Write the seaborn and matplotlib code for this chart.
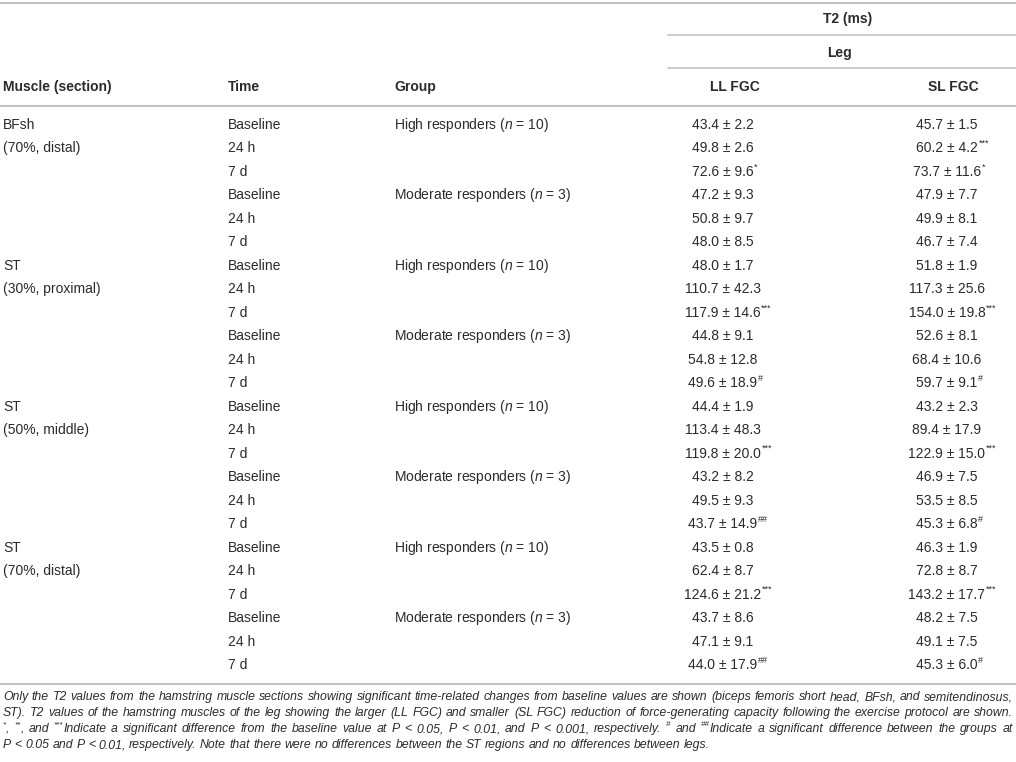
import re
import numpy as np
import pandas as pd
import matplotlib
matplotlib.use('Agg')
import matplotlib.pyplot as plt
from matplotlib import font_manager
import seaborn as sns

# table content
col_headers = ['Muscle (section)', 'Time', 'Group', 'LL FGC', 'SL FGC']
muscle_labels = {0: 'BFsh', 1: '(70%, distal)', 6: 'ST', 7: '(30%, proximal)',
                 12: 'ST', 13: '(50%, middle)', 18: 'ST', 19: '(70%, distal)'}
times = ['Baseline', '24 h', '7 d'] * 8
group_labels = {0: 'High responders ($n$ = 10)', 3: 'Moderate responders ($n$ = 3)'}

ll_mean = [43.4, 49.8, 72.6, 47.2, 50.8, 48.0, 48.0, 110.7, 117.9, 44.8, 54.8, 49.6,
           44.4, 113.4, 119.8, 43.2, 49.5, 43.7, 43.5, 62.4, 124.6, 43.7, 47.1, 44.0]
ll_sd = [2.2, 2.6, 9.6, 9.3, 9.7, 8.5, 1.7, 42.3, 14.6, 9.1, 12.8, 18.9,
         1.9, 48.3, 20.0, 8.2, 9.3, 14.9, 0.8, 8.7, 21.2, 8.6, 9.1, 17.9]
ll_sig = ['', '', '*', '', '', '', '', '', '***', '', '', '#',
          '', '', '***', '', '', '##', '', '', '***', '', '', '##']
sl_mean = [45.7, 60.2, 73.7, 47.9, 49.9, 46.7, 51.8, 117.3, 154.0, 52.6, 68.4, 59.7,
           43.2, 89.4, 122.9, 46.9, 53.5, 45.3, 46.3, 72.8, 143.2, 48.2, 49.1, 45.3]
sl_sd = [1.5, 4.2, 11.6, 7.7, 8.1, 7.4, 1.9, 25.6, 19.8, 8.1, 10.6, 9.1,
         2.3, 17.9, 15.0, 7.5, 8.5, 6.8, 1.9, 8.7, 17.7, 7.5, 7.5, 6.0]
sl_sig = ['', '***', '*', '', '', '', '', '', '***', '', '', '#',
          '', '', '***', '', '', '#', '', '', '***', '', '', '#']

# {..} marks superscript pieces
footnote = [
    'Only the T2 values from the hamstring muscle sections showing significant time-related changes from baseline values are shown (biceps femoris short head, BFsh, and semitendinosus,',
    'ST). T2 values of the hamstring muscles of the leg showing the larger (LL FGC) and smaller (SL FGC) reduction of force-generating capacity following the exercise protocol are shown.',
    '{*}, {**}, and {***}Indicate a significant difference from the baseline value at P < 0.05, P < 0.01, and P < 0.001, respectively. {#} and {##}Indicate a significant difference between the groups at',
    'P < 0.05 and P < 0.01, respectively. Note that there were no differences between the ST regions and no differences between legs.',
]

sns.set_theme(style='white')
plt.rcParams['font.family'] = ['Liberation Sans', 'DejaVu Sans']
plt.rcParams['mathtext.fontset'] = 'custom'
plt.rcParams['mathtext.rm'] = 'Liberation Sans'
plt.rcParams['mathtext.it'] = 'Liberation Sans:italic'
plt.rcParams['mathtext.bf'] = 'Liberation Sans:bold'

try:
    font_manager.findfont(font_manager.FontProperties(family='Liberation Sans Narrow'),
                          fallback_to_default=False)
    foot_family, ffs = ['Liberation Sans Narrow', 'Liberation Sans'], 10.6
except Exception:
    foot_family, ffs = ['Liberation Sans'], 8.8

txt = '#2b2b2b'
rule = '#c4c4c4'
fs = 10

fig = plt.figure(figsize=(10.16, 7.62), dpi=100)
ax = fig.add_axes([0, 0, 1, 1])
ax.set_xlim(0, 1016)
ax.set_ylim(762, 0)
ax.axis('off')

# rules
ax.plot([0, 1016], [3, 3], color=rule, lw=1.5)
ax.plot([668, 1016], [35, 35], color=rule, lw=1.2)
ax.plot([668, 1016], [68, 68], color=rule, lw=1.2)
ax.plot([0, 1016], [106, 106], color=rule, lw=1.5)
ax.plot([0, 1016], [684, 684], color=rule, lw=1.5)

# headers
ax.text(848, 19, 'T2 (ms)', ha='center', va='center', fontsize=fs, fontweight='bold', color=txt)
ax.text(840, 53, 'Leg', ha='center', va='center', fontsize=fs, fontweight='bold', color=txt)
hx = [3, 228, 394, 735, 953]
for i, h in enumerate(col_headers):
    ax.text(hx[i], 87, h, ha='center' if i >= 3 else 'left', va='center',
            fontsize=fs, fontweight='bold', color=txt)

row_y = 125 + np.arange(len(times)) * 23.48

sig_pending = []
for r, y in enumerate(row_y):
    if r in muscle_labels:
        ax.text(3, y, muscle_labels[r], va='center', fontsize=fs, color=txt)
    ax.text(228, y, times[r], va='center', fontsize=fs, color=txt)
    if r % 6 in group_labels:
        ax.text(394, y, group_labels[r % 6], va='center', fontsize=fs, color=txt)
    for cx, m, s, sg in [(723, ll_mean, ll_sd, ll_sig), (947, sl_mean, sl_sd, sl_sig)]:
        t = ax.text(cx, y, f'{m[r]:.1f} ± {s[r]:.1f}', ha='center', va='center',
                    fontsize=fs, color=txt)
        if sg[r]:
            sig_pending.append((t, y, sg[r]))

fig.canvas.draw()
renderer = fig.canvas.get_renderer()
for t, y, sg in sig_pending:
    bb = t.get_window_extent(renderer)
    ax.text(bb.x1 + 0.5, y - 5, sg, ha='left', va='center', fontsize=6.5, color=txt)


def make_word(word, y):
    # split a word into normal and superscript pieces
    pieces = []
    for part in re.split(r'(\{[^}]*\})', word):
        if not part:
            continue
        if part.startswith('{'):
            o = ax.text(0, y - 4, part[1:-1], ha='left', va='center', fontsize=ffs * 0.65,
                        style='italic', family=foot_family, color=txt)
        else:
            o = ax.text(0, y, part, ha='left', va='center', fontsize=ffs,
                        style='italic', family=foot_family, color=txt)
        pieces.append((o, o.get_window_extent(renderer).width))
    return pieces


# footnote, justified like the source
fy = [697, 713, 729, 745]
left, right = 3, 1013
for i, line in enumerate(footnote):
    words = [make_word(w, fy[i]) for w in line.split(' ')]
    widths = [sum(p[1] for p in w) for w in words]
    t1 = ax.text(0, 0, 'a a', fontsize=ffs, style='italic', family=foot_family)
    t2 = ax.text(0, 0, 'aa', fontsize=ffs, style='italic', family=foot_family)
    sp = t1.get_window_extent(renderer).width - t2.get_window_extent(renderer).width
    t1.remove()
    t2.remove()
    if i < len(footnote) - 1:
        gap = (right - left - sum(widths)) / (len(words) - 1)
    else:
        gap = sp
    x = left
    for w, wd in zip(words, widths):
        xx = x
        for o, pw in w:
            o.set_x(xx)
            xx += pw
        x += wd + gap

fig.savefig('out.png', dpi=100)
